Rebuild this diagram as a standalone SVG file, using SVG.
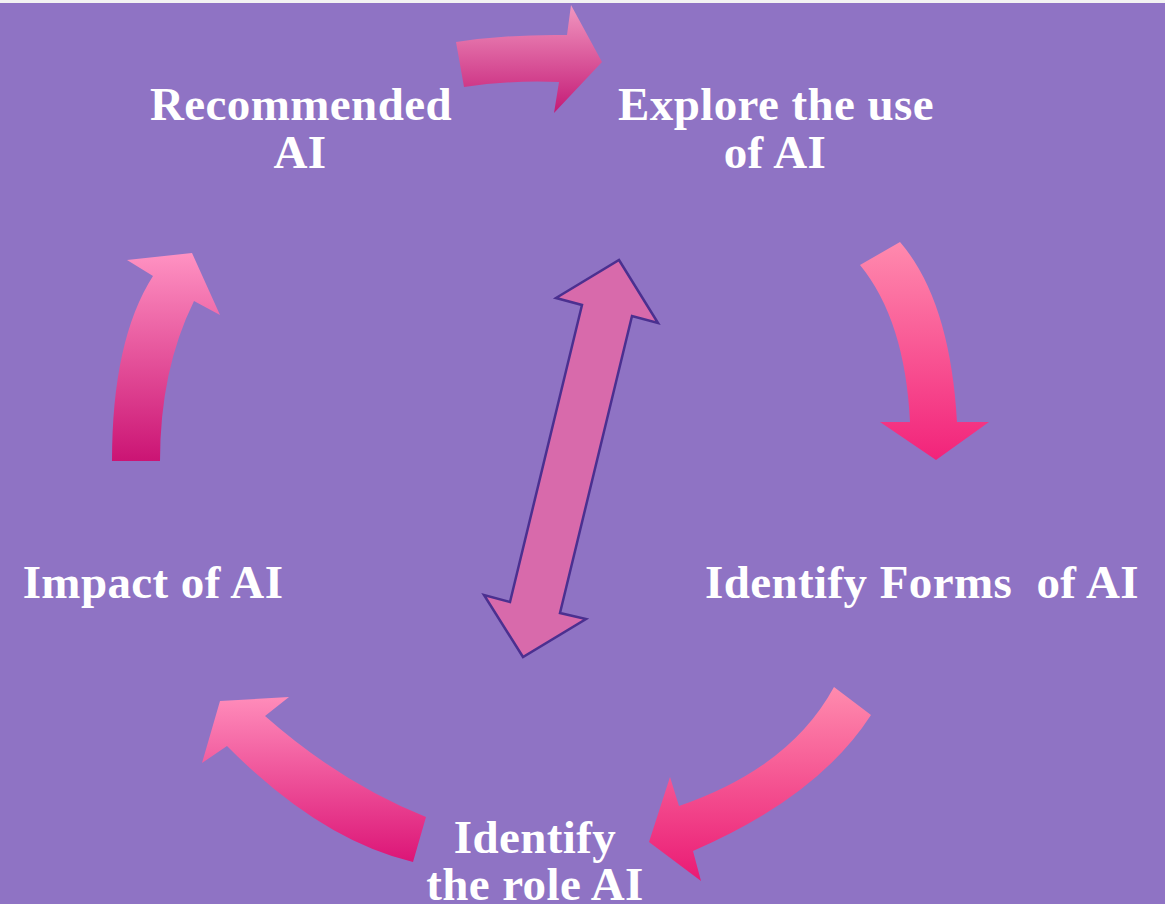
<svg xmlns="http://www.w3.org/2000/svg" width="1165" height="904" viewBox="0 0 1165 904">
<defs>
<style>
.lbl{font-family:"Liberation Serif","Times New Roman",serif;font-weight:bold;font-size:47px;fill:#ffffff;text-anchor:middle;letter-spacing:0.4px}
.dbl{fill:#d86aab;stroke:#4b3090;stroke-width:2.5;stroke-linejoin:miter}
</style>
<linearGradient id="gTop" x1="0" y1="0" x2="0" y2="1"><stop offset="0" stop-color="#f197c0"/><stop offset="1" stop-color="#c41a76"/></linearGradient>
<linearGradient id="gRight" x1="0" y1="0" x2="0" y2="1"><stop offset="0" stop-color="#ff8aae"/><stop offset="1" stop-color="#f2237a"/></linearGradient>
<linearGradient id="gBR" x1="0" y1="0" x2="0" y2="1"><stop offset="0" stop-color="#ff8bae"/><stop offset="1" stop-color="#ea1a74"/></linearGradient>
<linearGradient id="gBL" x1="0" y1="0" x2="0" y2="1"><stop offset="0" stop-color="#ff8cba"/><stop offset="1" stop-color="#dc1577"/></linearGradient>
<linearGradient id="gLeft" x1="0" y1="0" x2="0" y2="1"><stop offset="0" stop-color="#ff92c2"/><stop offset="1" stop-color="#cb1474"/></linearGradient>
</defs>
<rect x="0" y="0" width="1165" height="904" fill="#8f73c4"/>
<rect x="0" y="0" width="1165" height="3" fill="#f2f2f2"/>
<g id="connectors">
<path id="arrow-top" fill="url(#gTop)" d="M456,42 Q510,34 567,35 L571,5 L602,62 L554,113 L559,82 Q510,80 464,87 Z"/>
<path id="arrow-right" fill="url(#gRight)" d="M860,265 L900,242 Q950,300 957,422 L989,422 L936,460 L880,422 L910,422 Q905,320 860,265 Z"/>
<path id="arrow-bottom-right" fill="url(#gBR)" d="M834,687 L871,715 Q818,797 693,851 L701,881 L649,842 L670,777 L679,806 Q790,768 834,687 Z"/>
<path id="arrow-bottom-left" fill="url(#gBL)" d="M413,862 L426,817 Q341,783 265,716 L289,697 L220,701 L202,763 L227,746 Q320,840 413,862 Z"/>
<path id="arrow-left" fill="url(#gLeft)" d="M112,461 Q112,340 153,276 L127,260 L192,253 L220,315 L194,301 Q160,370 160,461 Z"/>
<path id="arrow-double" class="dbl" d="M619,260 L658,323 L632,316 L560,613 L586,619 L523,657 L484,595 L510,602 L582,305 L556,298 Z"/>
</g>
<g id="node-recommended"><text class="lbl" x="301" y="120">Recommended</text><text class="lbl" x="300" y="168">AI</text></g>
<g id="node-explore"><text class="lbl" x="776" y="120">Explore the use</text><text class="lbl" x="775" y="168">of AI</text></g>
<g id="node-forms"><text class="lbl" x="922" y="598" xml:space="preserve">Identify Forms  of AI</text></g>
<g id="node-role"><text class="lbl" x="535" y="853">Identify</text><text class="lbl" x="535" y="900">the role AI</text></g>
<g id="node-impact"><text class="lbl" x="153" y="598">Impact of AI</text></g>
</svg>
